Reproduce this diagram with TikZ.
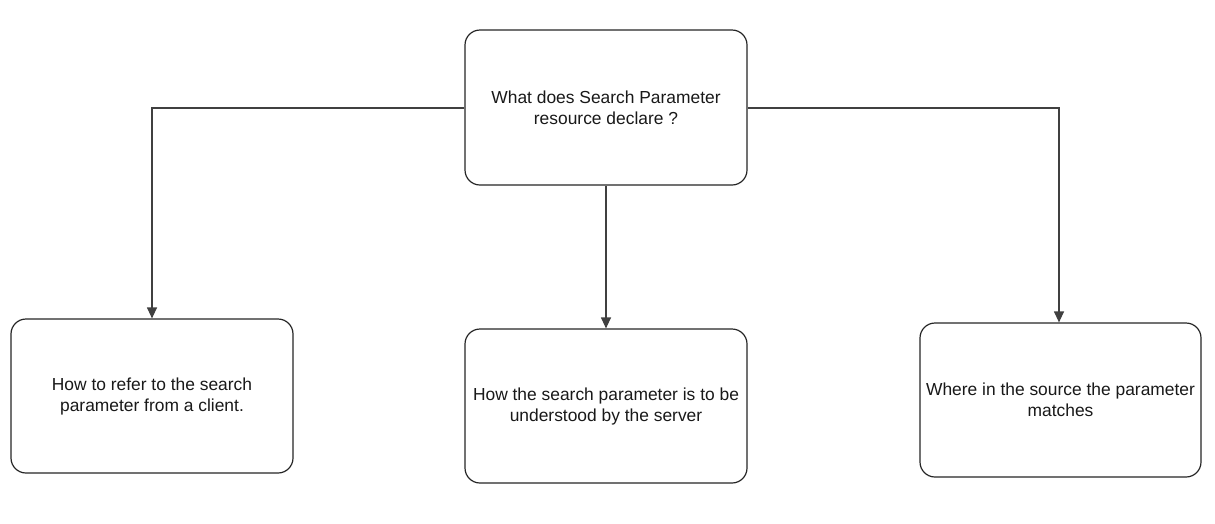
\documentclass[tikz,border=0pt]{standalone}
\usepackage{fontspec}
\setmainfont{Liberation Sans}
\usetikzlibrary{arrows.meta}
\begin{document}
\begin{tikzpicture}[x=1pt,y=-1pt,
  box/.style={draw=black!85, line width=1.2pt, rounded corners=15pt, fill=white, align=center,
     font=\fontsize{17.4}{21}\selectfont, inner sep=0pt, text=black!90},
  conn/.style={draw=black!75, line width=1.2pt, -{Triangle[length=11pt,width=10pt]}}]
\useasboundingbox (0,0) rectangle (1215,523);
\node[box, minimum width=282pt, minimum height=155pt] (top) at (606,107.5) {What does Search Parameter\\resource declare ?};
\node[box, minimum width=282pt, minimum height=154pt] (left) at (152,396) {How to refer to the search\\parameter from a client.};
\node[box, minimum width=282pt, minimum height=154pt] (mid) at (606,406) {How the search parameter is to be\\understood by the server};
\node[box, minimum width=281pt, minimum height=154pt] (right) at (1060.5,400) {Where in the source the parameter\\matches};
\coordinate (lc) at (152,108);
\coordinate (rc) at (1059,108);
\draw[conn] (top.west |- lc) -- (lc) -- (left.north);
\draw[conn] (top.south) -- (mid.north);
\draw[conn] (top.east |- rc) -- (rc) -- (rc |- right.north);
\end{tikzpicture}
\end{document}
